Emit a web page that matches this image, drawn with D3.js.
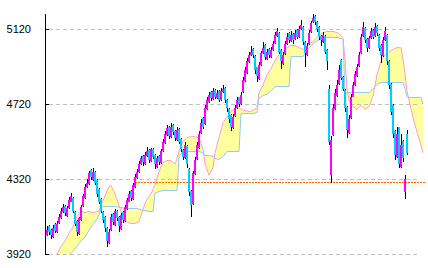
<!DOCTYPE html>
<head>
<meta charset="utf-8">
<style>
body { margin: 0; background: #fff; }
svg { display: block; }
</style>
</head>
<body>
<script src="https://cdn.jsdelivr.net/npm/d3@7"></script>
<script>
// daily candles, oldest first
var open = [
	4020,4070,4050,4010,4080,4035,4085,4110,4145,4175,
	4125,4165,4200,4220,4145,4095,4025,4100,4175,4220,
	4275,4295,4370,4315,4360,4315,4265,4215,4145,4120,
	4060,3980,4050,4135,4075,4150,4120,4055,4145,4095,
	4160,4200,4255,4215,4275,4325,4355,4400,4445,4400,
	4445,4475,4415,4480,4450,4385,4445,4405,4470,4510,
	4555,4600,4545,4610,4575,4530,4585,4535,4475,4430,
	4495,4375,4255,4185,4345,4425,4485,4565,4645,4615,
	4695,4730,4785,4745,4795,4750,4790,4740,4785,4805,
	4740,4695,4660,4590,4655,4700,4755,4720,4785,4845,
	4885,4945,4980,5015,4975,4915,4855,4930,4990,5035,
	4960,5015,4970,5010,5045,5085,5100,5010,4935,4985,
	5040,5100,5055,5095,5065,5115,5075,5120,5130,5050,
	4980,5040,5105,5155,5190,5160,5130,5085,5050,5085,
	5010,4800,4340,4555,4695,4765,4825,4955,4865,4795,
	4705,4565,4645,4760,4820,4870,4925,4990,5085,5125,
	5065,5020,5070,5115,5085,5135,5090,5035,4975,5060,
	5090,4950,4825,4715,4575,4435,4595,4385,4525,4250,4560
];
var high = [
	4070,4075,4055,4075,4085,4095,4135,4165,4185,4180,
	4175,4225,4245,4225,4150,4100,4120,4180,4240,4295,
	4320,4365,4375,4378,4365,4320,4270,4220,4150,4125,
	4065,4055,4135,4140,4160,4155,4125,4140,4150,4180,
	4220,4255,4260,4300,4345,4375,4415,4445,4450,4465,
	4490,4480,4488,4485,4455,4445,4450,4480,4535,4575,
	4610,4605,4620,4615,4580,4595,4590,4540,4480,4515,
	4500,4380,4260,4365,4440,4515,4575,4640,4650,4715,
	4760,4785,4790,4805,4800,4795,4795,4805,4824,4810,
	4745,4700,4665,4665,4715,4760,4760,4785,4865,4915,
	4965,4995,5030,5020,4980,4920,4945,5005,5050,5040,
	5015,5020,5025,5055,5105,5128,5105,5015,4995,5055,
	5100,5105,5110,5100,5115,5120,5135,5170,5135,5055,
	5045,5115,5165,5200,5195,5165,5135,5090,5105,5090,
	5015,4820,4550,4720,4800,4850,4930,4960,4870,4800,
	4710,4660,4775,4835,4895,4935,4995,5095,5160,5130,
	5070,5085,5125,5120,5150,5140,5095,5040,5075,5130,
	5095,4955,4830,4720,4580,4600,4600,4560,4530,4340,4580
];
var low = [
	4015,4020,4000,4005,4030,4030,4080,4105,4140,4125,
	4120,4160,4195,4140,4070,4015,4020,4095,4170,4215,
	4270,4290,4315,4310,4290,4225,4185,4140,4085,4040,
	3960,3975,4045,4075,4070,4095,4040,4050,4085,4090,
	4155,4195,4205,4210,4270,4320,4350,4395,4390,4395,
	4440,4405,4410,4425,4375,4380,4395,4400,4465,4505,
	4550,4535,4540,4555,4525,4525,4505,4465,4420,4425,
	4380,4230,4120,4180,4340,4420,4480,4560,4585,4610,
	4690,4725,4735,4740,4745,4745,4730,4735,4780,4725,
	4680,4620,4575,4585,4650,4695,4705,4715,4780,4840,
	4880,4940,4975,4965,4880,4840,4850,4925,4985,4955,
	4955,4965,4965,5005,5040,5080,4985,4905,4930,4980,
	5035,5045,5050,5040,5060,5065,5070,5115,5035,4920,
	4975,5035,5100,5150,5140,5105,5060,5030,5045,4985,
	4900,4500,4300,4550,4690,4760,4820,4850,4790,4680,
	4540,4560,4640,4755,4815,4865,4920,4985,5080,5045,
	5000,5015,5065,5065,5080,5085,5005,4940,4970,5055,
	4930,4800,4660,4540,4420,4430,4380,4380,4410,4215,4450
];
var close = [
	4050,4035,4020,4060,4045,4080,4120,4150,4170,4140,
	4165,4210,4230,4150,4080,4040,4110,4170,4230,4280,
	4300,4350,4330,4360,4300,4240,4200,4150,4100,4060,
	3990,4040,4120,4090,4150,4110,4070,4130,4100,4170,
	4210,4240,4220,4290,4330,4360,4400,4430,4410,4450,
	4470,4420,4480,4440,4400,4430,4410,4470,4520,4560,
	4590,4550,4600,4570,4540,4580,4520,4480,4440,4500,
	4400,4250,4180,4350,4420,4500,4560,4620,4600,4700,
	4740,4770,4750,4790,4760,4780,4740,4790,4800,4740,
	4700,4640,4600,4650,4700,4740,4720,4770,4850,4900,
	4950,4980,5000,4980,4900,4870,4930,4990,5020,4970,
	5000,4980,5010,5040,5090,5110,5000,4950,4980,5040,
	5080,5060,5090,5060,5100,5080,5120,5140,5050,4990,
	5030,5100,5150,5180,5160,5120,5080,5060,5090,5000,
	4950,4520,4530,4700,4780,4820,4900,4860,4800,4700,
	4580,4640,4760,4820,4880,4920,4980,5080,5130,5060,
	5020,5070,5110,5080,5130,5100,5020,4980,5060,5110,
	4950,4820,4680,4560,4450,4560,4400,4500,4430,4320,4460
];

// ichimoku cloud (leading spans, already shifted forward)
var cloudDay = [
	5,7,9,11,13,15,17,19,21,23,
	25,26,27,29,31,32,34,36,38,40,
	42,44,46,47,49,51,52,53,54,56,
	58,60,62,64,65,66,68,70,73,76,
	78,79,81,83,84,86,88,90,92,94,
	96,97,99,101,103,105,106,108,110,112,
	114,116,118,120,121,122,124,126,128,130,
	132,134,136,138,140,143,145,147,148,149,
	150,151,153,155,157,159,161,163,165,167,
	169,171,173,175,177,178,179,180,181,183,
	185,187,188
];
var spanA = [
	3920,3960,3990,4030,4065,4120,4147,4141,4147,4140,
	4147,4150,4180,4230,4280,4285,4240,4180,4110,4090,
	4083,4083,4093,4125,4190,4230,4240,4265,4290,4360,
	4408,4419,4419,4400,4430,4470,4520,4541,4547,4541,
	4480,4400,4340,4380,4460,4540,4620,4650,4680,4700,
	4705,4691,4685,4680,4685,4701,4780,4820,4877,4910,
	4950,4984,5000,5021,5027,5032,5032,5021,5011,5030,
	5045,5064,5085,5101,5107,5107,5101,5085,5070,4960,
	4800,4740,4707,4691,4712,4691,4707,4760,4877,4947,
	4984,5000,5011,5021,5020,4960,4880,4790,4740,4650,
	4570,4500,4460
];
var spanB = [
	3880,3895,3905,3915,3935,3960,3990,4010,4045,4078,
	4105,4130,4170,4173,4173,4173,4173,4170,4165,4163,
	4163,4163,4160,4155,4152,4147,4147,4147,4245,4253,
	4259,4259,4259,4259,4259,4440,4467,4467,4467,4467,
	4460,4445,4445,4440,4430,4424,4440,4467,4467,4467,
	4467,4669,4669,4669,4669,4675,4750,4765,4771,4790,
	4813,4813,4813,4813,4813,4973,4973,4973,4973,5005,
	5030,5050,5064,5072,5075,5075,5075,5069,5064,4771,
	4781,4781,4781,4781,4781,4781,4781,4800,4824,4835,
	4835,4835,4835,4835,4835,4835,4800,4760,4755,4755,
	4755,4755,4720
];

var yTicks = [3920, 4320, 4720, 5120];
var supportLevel = 4305, supportFrom = 44;

(function() {
	var W = 428, H = 268;

	var x = d3.scaleLinear().domain([0, 188]).range([47, 423]);
	var y = d3.scaleLinear().domain([3920, 5120]).range([254, 29]);

	var svg = d3.select("body").append("svg")
		.attr("width", W)
		.attr("height", H);

	svg.append("clipPath").attr("id", "plot")
		.append("rect")
		.attr("x", 46).attr("y", 14)
		.attr("width", 378).attr("height", 240.5);

	// cloud
	var cloud = cloudDay.map(function(d, i) { return {d: d, a: spanA[i], b: spanB[i]}; });

	var gCloud = svg.append("g").attr("clip-path", "url(#plot)");

	gCloud.append("path")
		.attr("fill", "#ffff9c")
		.attr("d", d3.area()
			.x(function(p) { return x(p.d); })
			.y0(function(p) { return y(p.a); })
			.y1(function(p) { return y(p.b); })(cloud));

	gCloud.append("path")
		.attr("fill", "none")
		.attr("stroke", "#ff9ccc")
		.attr("d", d3.line()
			.x(function(p) { return x(p.d); })
			.y(function(p) { return y(p.a); })(cloud));

	gCloud.append("path")
		.attr("fill", "none")
		.attr("stroke", "#94c4ff")
		.attr("d", d3.line()
			.x(function(p) { return x(p.d); })
			.y(function(p) { return y(p.b); })(cloud));

	// grid
	svg.append("g").selectAll("line")
		.data(yTicks)
		.enter().append("line")
		.attr("x1", 49).attr("x2", 420)
		.attr("y1", function(t) { return y(t) + 0.5; })
		.attr("y2", function(t) { return y(t) + 0.5; })
		.attr("stroke", "#c0c0c0")
		.attr("stroke-dasharray", "4,3");

	// support line
	svg.append("line")
		.attr("x1", x(supportFrom)).attr("x2", 425)
		.attr("y1", Math.round(y(supportLevel)) + 0.5)
		.attr("y2", Math.round(y(supportLevel)) + 0.5)
		.attr("stroke", "#ff6600")
		.attr("stroke-dasharray", "2,1");

	// candles
	var idx = d3.range(close.length);
	var gC = svg.append("g").attr("shape-rendering", "crispEdges");

	gC.selectAll("line")
		.data(idx)
		.enter().append("line")
		.attr("x1", function(i) { return x(i) + 0.5; })
		.attr("x2", function(i) { return x(i) + 0.5; })
		.attr("y1", function(i) { return y(high[i]); })
		.attr("y2", function(i) { return y(low[i]); })
		.attr("stroke", "#000");

	gC.selectAll("rect")
		.data(idx)
		.enter().append("rect")
		.attr("x", function(i) { return x(i) - 1; })
		.attr("width", 2)
		.attr("y", function(i) { return y(Math.max(open[i], close[i])); })
		.attr("height", function(i) {
			return Math.max(1, Math.abs(y(open[i]) - y(close[i])));
		})
		.attr("fill", function(i) { return close[i] >= open[i] ? "#ff00ff" : "#00ccff"; });

	// axis
	var ax = svg.append("g")
		.attr("transform", "translate(45,0)")
		.call(d3.axisLeft(y)
			.tickValues(yTicks)
			.tickSize(-4)
			.tickSizeOuter(0)
			.tickPadding(14)
			.tickFormat(d3.format("d")));
	ax.select(".domain").remove();
	ax.selectAll("text")
		.attr("font-family", "'Liberation Sans', Arial, sans-serif")
		.attr("font-size", 11)
		.attr("fill", "#000");
	ax.selectAll(".tick line").attr("stroke", "#000");

	svg.append("line")
		.attr("x1", 45.5).attr("x2", 45.5)
		.attr("y1", 14).attr("y2", 255)
		.attr("stroke", "#000");
})();
</script>
</body>
